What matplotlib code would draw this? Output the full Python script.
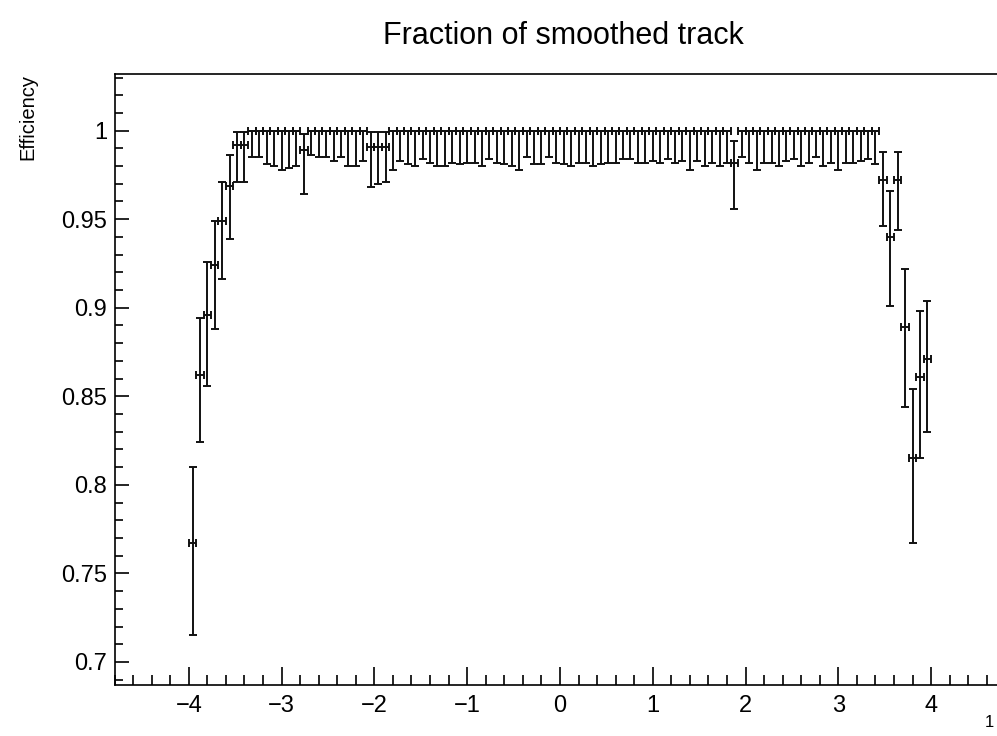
import numpy as np
import matplotlib

matplotlib.use("Agg")
import matplotlib.pyplot as plt
from matplotlib.ticker import MultipleLocator

plt.rcParams["font.family"] = ["Liberation Sans", "DejaVu Sans"]

# binning of the efficiency histogram (eta)
eta_min, eta_max, n_bins = -4.0, 4.0, 100

# efficiency per bin
eff = [
    0.767, 0.862, 0.896, 0.924, 0.949, 0.969, 0.992, 0.992, 1.0, 1.0,
    1.0, 1.0, 1.0, 1.0, 1.0, 0.989, 1.0, 1.0, 1.0, 1.0,
    1.0, 1.0, 1.0, 1.0, 0.991, 0.991, 0.991, 1.0, 1.0, 1.0,
    1.0, 1.0, 1.0, 1.0, 1.0, 1.0, 1.0, 1.0, 1.0, 1.0,
    1.0, 1.0, 1.0, 1.0, 1.0, 1.0, 1.0, 1.0, 1.0, 1.0,
    1.0, 1.0, 1.0, 1.0, 1.0, 1.0, 1.0, 1.0, 1.0, 1.0,
    1.0, 1.0, 1.0, 1.0, 1.0, 1.0, 1.0, 1.0, 1.0, 1.0,
    1.0, 1.0, 1.0, 0.982, 1.0, 1.0, 1.0, 1.0, 1.0, 1.0,
    1.0, 1.0, 1.0, 1.0, 1.0, 1.0, 1.0, 1.0, 1.0, 1.0,
    1.0, 1.0, 1.0, 0.972, 0.940, 0.972, 0.889, 0.815, 0.861, 0.871,
]

# lower edge of the confidence interval
eff_low = [
    0.715, 0.824, 0.856, 0.888, 0.916, 0.939, 0.971, 0.971, 0.985, 0.985,
    0.981, 0.980, 0.978, 0.979, 0.980, 0.964, 0.986, 0.985, 0.985, 0.983,
    0.985, 0.980, 0.980, 0.983, 0.968, 0.970, 0.971, 0.978, 0.983, 0.981,
    0.980, 0.984, 0.982, 0.980, 0.980, 0.982, 0.981, 0.982, 0.982, 0.980,
    0.984, 0.982, 0.981, 0.980, 0.978, 0.985, 0.981, 0.981, 0.985, 0.982,
    0.981, 0.980, 0.982, 0.982, 0.980, 0.981, 0.982, 0.982, 0.984, 0.984,
    0.982, 0.982, 0.983, 0.982, 0.984, 0.982, 0.983, 0.978, 0.983, 0.980,
    0.982, 0.980, 0.982, 0.956, 0.985, 0.982, 0.978, 0.982, 0.982, 0.980,
    0.983, 0.984, 0.980, 0.982, 0.985, 0.980, 0.982, 0.978, 0.982, 0.982,
    0.983, 0.984, 0.981, 0.946, 0.901, 0.944, 0.844, 0.767, 0.815, 0.830,
]

# upper edge of the confidence interval
eff_high = [
    0.810, 0.894, 0.926, 0.949, 0.971, 0.986, 0.999, 0.999, 1.0, 1.0,
    1.0, 1.0, 1.0, 1.0, 1.0, 0.998, 1.0, 1.0, 1.0, 1.0,
    1.0, 1.0, 1.0, 1.0, 0.999, 0.999, 0.999, 1.0, 1.0, 1.0,
    1.0, 1.0, 1.0, 1.0, 1.0, 1.0, 1.0, 1.0, 1.0, 1.0,
    1.0, 1.0, 1.0, 1.0, 1.0, 1.0, 1.0, 1.0, 1.0, 1.0,
    1.0, 1.0, 1.0, 1.0, 1.0, 1.0, 1.0, 1.0, 1.0, 1.0,
    1.0, 1.0, 1.0, 1.0, 1.0, 1.0, 1.0, 1.0, 1.0, 1.0,
    1.0, 1.0, 1.0, 0.994, 1.0, 1.0, 1.0, 1.0, 1.0, 1.0,
    1.0, 1.0, 1.0, 1.0, 1.0, 1.0, 1.0, 1.0, 1.0, 1.0,
    1.0, 1.0, 1.0, 0.988, 0.966, 0.988, 0.922, 0.854, 0.898, 0.904,
]

edges = np.linspace(eta_min, eta_max, n_bins + 1)
centers = 0.5 * (edges[:-1] + edges[1:])
half_width = 0.5 * (edges[1:] - edges[:-1])
eff = np.array(eff)
yerr = [eff - np.array(eff_low), np.array(eff_high) - eff]

fig = plt.figure(figsize=(9.97, 7.36), dpi=100)
ax = fig.add_axes([0.1149, 0.0693, 0.8935, 0.8302])

ax.errorbar(centers, eff, xerr=half_width, yerr=yerr, fmt="none",
            ecolor="#111111", elinewidth=1.4, capsize=3, capthick=1.4)

ax.set_xlim(-4.8, 4.8)
ax.set_ylim(0.687, 1.032)
ax.xaxis.set_major_locator(MultipleLocator(1))
ax.xaxis.set_minor_locator(MultipleLocator(0.2))
ax.yaxis.set_major_locator(MultipleLocator(0.05))
ax.yaxis.set_minor_locator(MultipleLocator(0.01))
ax.yaxis.set_major_formatter(plt.FuncFormatter(lambda v, p: f"{v:g}"))
ax.tick_params(which="both", direction="in", top=False, right=False,
               labelsize=17, width=1.2)
ax.tick_params(axis="x", which="major", length=13, pad=7)
ax.tick_params(axis="x", which="minor", length=7.5)
ax.tick_params(axis="y", which="major", length=10, pad=5.5)
ax.tick_params(axis="y", which="minor", length=6)
for side in ax.spines.values():
    side.set_linewidth(1.2)

ax.set_ylabel("Efficiency", fontsize=14.5)
ax.yaxis.set_label_coords(-0.0865, 1.0)
ax.yaxis.label.set_horizontalalignment("right")

fig.text(0.565, 0.951, "Fraction of smoothed track", ha="center",
         va="center", fontsize=22)
fig.text(0.988, 0.012, "1", fontsize=12, ha="left")

fig.savefig("out.png", dpi=100)
plt.close(fig)
